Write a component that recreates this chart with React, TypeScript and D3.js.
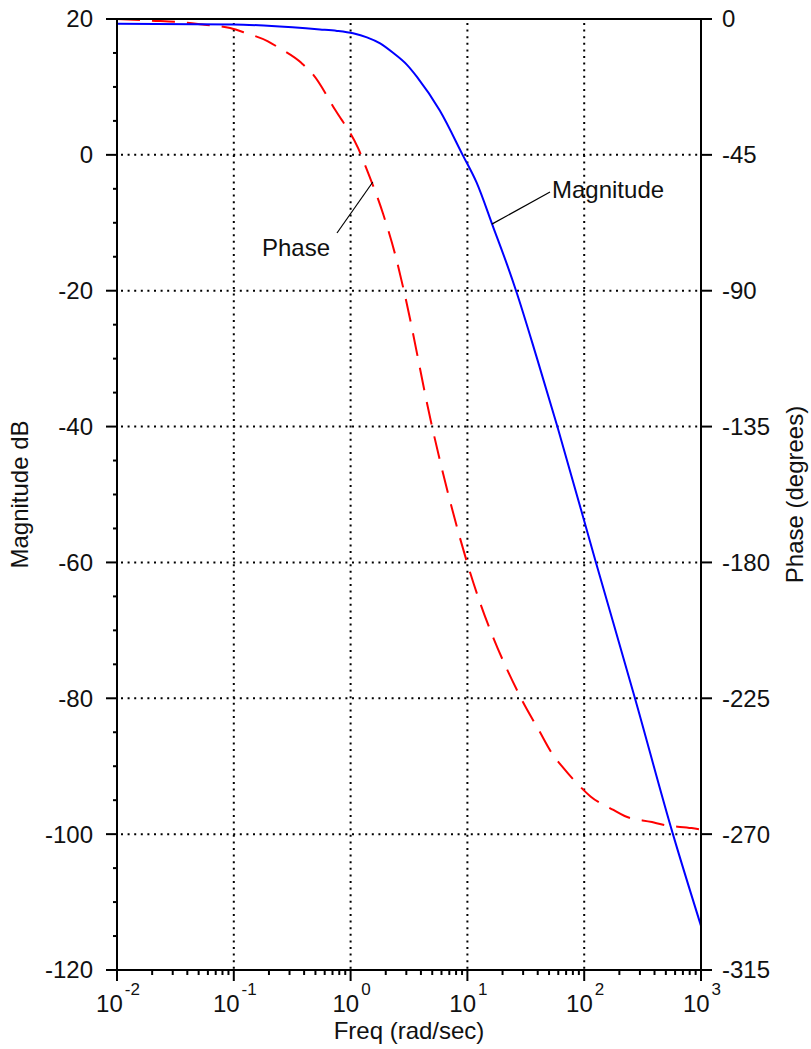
import React from "react";
import * as d3 from "d3";

// Magnitude curve: [rad/sec, dB]
const magFreq = [0.01, 0.1, 0.195, 0.547, 0.766, 1.05, 1.38, 1.79, 2.31, 3.04, 3.7, 5.82, 9.1, 12, 16.6, 21.9, 26.1, 39.5, 58.9, 126, 272, 575, 1000];
const magDb = [19.3, 19.2, 19.0, 18.47, 18.25, 17.89, 17.3, 16.41, 15.02, 13.25, 11.48, 6.48, 0, -4.1, -10.6, -16.2, -20, -30, -40, -60, -80, -100, -113.5];

// Phase curve: [rad/sec, degrees]
const phFreq = [0.01, 0.019, 0.042, 0.056, 0.093, 0.126, 0.196, 0.24, 0.38, 0.48, 0.735, 1.16, 1.38, 1.9, 2.4, 2.86, 4.98, 9.93, 28.8, 41.5, 52.5, 66, 91, 114, 178, 222, 380, 490, 830, 1000];
const phDeg = [0, -0.5, -1.3, -1.9, -3, -4.6, -7.4, -9.4, -14.6, -18.5, -30, -42.8, -50, -64.6, -77.8, -90, -135, -180, -225, -236, -243, -248, -254, -257.6, -262, -264, -266, -267, -268, -268.5];

const magTicks = [20, 0, -20, -40, -60, -80, -100, -120];
const phaseTicks = [0, -45, -90, -135, -180, -225, -270, -315];
const decades = [0.01, 0.1, 1, 10, 100, 1000];
const exponents = ["-2", "-1", "0", "1", "2", "3"];

const W = 811;
const H = 1049;
const left = 117, right = 701, top = 19, bottom = 970;
const font = "'Liberation Sans', Arial, sans-serif";

export default function App() {
  const x = d3.scaleLog().domain([0.01, 1000]).range([left, right]);
  const yMag = d3.scaleLinear().domain([-120, 20]).range([bottom, top]);
  const yPh = d3.scaleLinear().domain([-315, 0]).range([bottom, top]);

  const magLine = d3
    .line<number>()
    .x((_, i) => x(magFreq[i]))
    .y((d) => yMag(d))
    .curve(d3.curveMonotoneX);
  const phLine = d3
    .line<number>()
    .x((_, i) => x(phFreq[i]))
    .y((d) => yPh(d))
    .curve(d3.curveMonotoneX);

  const minorMag = d3.range(-120, 20, 5).filter((v) => v % 20 !== 0);
  const minorFreq: number[] = [];
  decades.slice(0, -1).forEach((d) => {
    for (let k = 2; k <= 9; k++) minorFreq.push(d * k);
  });

  const gridH = magTicks.slice(1, -1);
  const gridV = decades.slice(1, -1);

  // annotation leader ends (data space)
  const magPt = { w: 16.2, db: -10.2 };
  const phPt = { w: 1.55, deg: -54 };

  return (
    <svg
      width={W}
      height={H}
      style={{ position: "absolute", left: 0, top: 0, background: "#fff" }}
      fontFamily={font}
    >
      {/* grid */}
      <g stroke="#000" strokeWidth={2} strokeDasharray="2 4.6">
        {gridH.map((v) => (
          <line key={"h" + v} x1={left + 4} x2={right} y1={yMag(v)} y2={yMag(v)} />
        ))}
        {gridV.map((v) => (
          <line key={"v" + v} x1={x(v)} x2={x(v)} y1={top + 4} y2={bottom} />
        ))}
      </g>

      {/* curves */}
      <path d={phLine(phDeg) || ""} fill="none" stroke="#ff0000" strokeWidth={2} strokeDasharray="23 12" />
      <path d={magLine(magDb) || ""} fill="none" stroke="#0000ff" strokeWidth={2} />

      {/* frame */}
      <g stroke="#000" strokeWidth={2} fill="none">
        <line x1={left - 11} x2={right + 11} y1={top} y2={top} />
        <line x1={left - 11} x2={right + 11} y1={bottom} y2={bottom} />
        <line x1={left} x2={left} y1={top} y2={bottom + 11} />
        <line x1={right} x2={right} y1={top} y2={bottom + 11} />
        {magTicks.map((v) => (
          <line key={"mt" + v} x1={left - 11} x2={left} y1={yMag(v)} y2={yMag(v)} />
        ))}
        {minorMag.map((v) => (
          <line key={"mm" + v} x1={left - 4} x2={left} y1={yMag(v)} y2={yMag(v)} />
        ))}
        {phaseTicks.map((v) => (
          <line key={"pt" + v} x1={right} x2={right + 11} y1={yPh(v)} y2={yPh(v)} />
        ))}
        {decades.map((v) => (
          <line key={"ft" + v} x1={x(v)} x2={x(v)} y1={bottom} y2={bottom + 11} />
        ))}
        {minorFreq.map((v) => (
          <line key={"fm" + v} x1={x(v)} x2={x(v)} y1={bottom} y2={bottom + 5} />
        ))}
      </g>

      {/* tick labels */}
      <g fontSize={24} fill="#111">
        {magTicks.map((v) => (
          <text key={"ml" + v} x={93} y={yMag(v)} dy="0.35em" textAnchor="end">
            {v}
          </text>
        ))}
        {phaseTicks.map((v) => (
          <text key={"pl" + v} x={722} y={yPh(v)} dy="0.35em" textAnchor="start">
            {v}
          </text>
        ))}
        {decades.map((v, i) => (
          <text key={"fl" + v} x={x(v) + 1} y={1012} textAnchor="middle">
            <tspan>10</tspan>
            <tspan fontSize={17} dx={2} dy={-17}>
              {exponents[i]}
            </tspan>
          </text>
        ))}
      </g>

      {/* axis titles */}
      <g fontSize={24} fill="#111">
        <text x={(left + right) / 2} y={1039} textAnchor="middle">
          Freq (rad/sec)
        </text>
        <text transform={`translate(28,${(top + bottom) / 2}) rotate(-90)`} textAnchor="middle">
          Magnitude dB
        </text>
        <text transform={`translate(803,${(top + bottom) / 2}) rotate(-90)`} textAnchor="middle">
          Phase (degrees)
        </text>
      </g>

      {/* annotations */}
      <g stroke="#000" strokeWidth={1.2}>
        <line x1={550} y1={192} x2={x(magPt.w)} y2={yMag(magPt.db)} />
        <line x1={337} y1={233} x2={x(phPt.w)} y2={yPh(phPt.deg)} />
      </g>
      <g fontSize={24} fill="#111">
        <text x={552} y={198}>Magnitude</text>
        <text x={262} y={256}>Phase</text>
      </g>
    </svg>
  );
}
